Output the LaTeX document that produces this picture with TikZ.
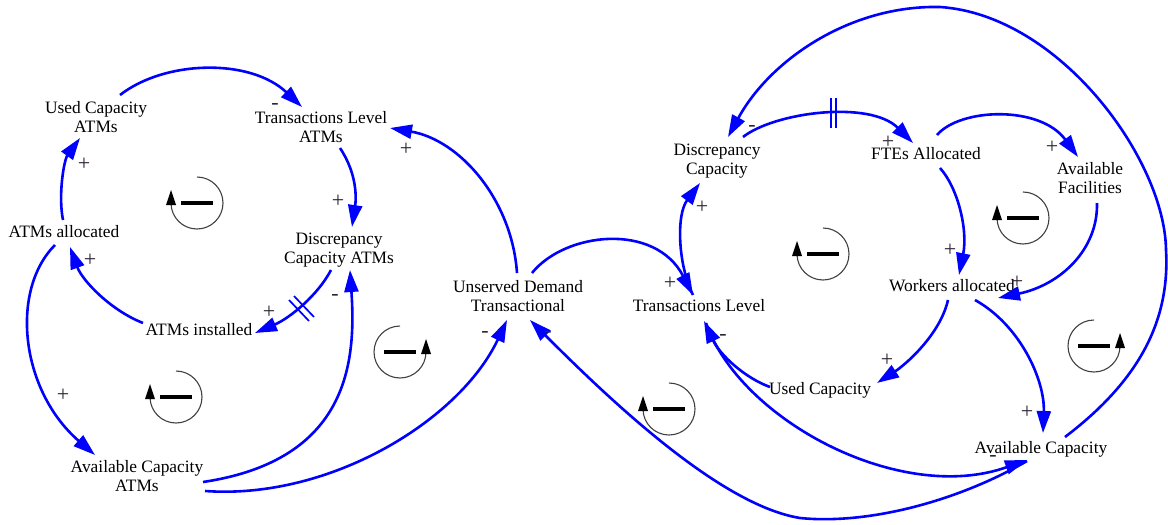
\documentclass[tikz,border=0pt]{standalone}
\usepackage{fontspec}
\setmainfont{Liberation Serif}
\usetikzlibrary{arrows.meta}
\definecolor{linkblue}{RGB}{0,0,255}
\definecolor{signink}{RGB}{45,35,50}
\begin{document}
\begin{tikzpicture}[x=1pt,y=-1pt,
  varnode/.style={align=center, inner sep=0pt, font=\fontsize{17.4}{19.5}\selectfont},
  link/.style={draw=linkblue, line width=2.6pt, -{Triangle[length=22pt,width=14pt]}},
  signnode/.style={inner sep=0pt, font=\fontsize{22}{22}\selectfont, text=signink},
  delaybar/.style={draw=linkblue, line width=1.7pt},
  loopcircle/.style={draw=black!75, line width=1.1pt},
  loopL/.pic={
    \begin{scope}[yscale=-1]
      \draw[loopcircle] (90:26) arc[start angle=90, end angle=-180, radius=26];
      \fill[black] (-31,-2) -- (-21,-2) -- (-26,13) -- cycle;
      \draw[black, line width=4pt] (-16,0) -- (16,0);
    \end{scope}
  },
  loopR/.pic={
    \begin{scope}[yscale=-1]
      \draw[loopcircle] (90:26) arc[start angle=90, end angle=360, radius=26];
      \fill[black] (21,-2) -- (31,-2) -- (26,13) -- cycle;
      \draw[black, line width=4pt] (-16,0) -- (16,0);
    \end{scope}
  }]
\useasboundingbox (0,0) rectangle (1168,525);

% variables
\node[varnode] (ucatm) at (96,117) {Used Capacity\\ATMs};
\node[varnode] (tlatm) at (321,127) {Transactions Level\\ATMs};
\node[varnode] (alloc) at (64,232) {ATMs allocated};
\node[varnode] (dcatm) at (339,250) {Discrepancy\\Capacity ATMs};
\node[varnode] (inst) at (199,330) {ATMs installed};
\node[varnode] (acatm) at (137,476) {Available Capacity\\ATMs};
\node[varnode] (ud) at (518,296) {Unserved Demand\\Transactional};
\node[varnode] (tl) at (699,306) {Transactions Level};
\node[varnode] (dc) at (717,161) {Discrepancy\\Capacity};
\node[varnode] (fte) at (926,154) {FTEs Allocated};
\node[varnode] (af) at (1090,178) {Available\\Facilities};
\node[varnode] (wa) at (952,286) {Workers allocated};
\node[varnode] (uc) at (820,390) {Used Capacity};
\node[varnode] (ac) at (1041,449) {Available Capacity};

% ATM sub-model links
\draw[link] ([shift={(24,-22)}]ucatm.center) .. controls (165,60) and (250,58) .. ([shift={(-19,-20)}]tlatm.center);
\draw[link] ([shift={(19,21)}]tlatm.center) .. controls (358,175) and (356,200) .. ([shift={(13,-23)}]dcatm.center);
\draw[link] ([shift={(-8,20)}]dcatm.center) .. controls (318,295) and (290,318) .. ([shift={(56,3)}]inst.center);
\draw[link] ([shift={(-56,-7)}]inst.center) .. controls (110,310) and (82,280) .. ([shift={(6,15)}]alloc.center);
\draw[link] ([shift={(-1,-12)}]alloc.center) .. controls (58,195) and (64,160) .. ([shift={(-16,21)}]ucatm.center);
\draw[link] ([shift={(-9,13)}]alloc.center) .. controls (10,290) and (20,390) .. ([shift={(-42,-21)}]acatm.center);
\draw[link] ([shift={(66,6)}]acatm.center) .. controls (350,460) and (356,360) .. ([shift={(11,20)}]dcatm.center);
\draw[link] ([shift={(68,15)}]acatm.center) .. controls (330,500) and (460,420) .. ([shift={(-11,24)}]ud.center);
\draw[link] ([shift={(-1,-23)}]ud.center) .. controls (512,200) and (460,140) .. ([shift={(69,1)}]tlatm.center);

% workforce sub-model links
\draw[link] ([shift={(14,-23)}]ud.center) .. controls (565,232) and (655,222) .. ([shift={(-6,-11)}]tl.center);
\draw[link] ([shift={(-6,-11)}]tl.center) .. controls (678,265) and (676,215) .. ([shift={(-17,22)}]dc.center);
\draw[link] ([shift={(26,-24)}]dc.center) .. controls (775,112) and (870,100) .. ([shift={(-13,-11)}]fte.center);
\draw[link] ([shift={(11,-19)}]fte.center) .. controls (960,108) and (1040,105) .. ([shift={(-12,-21)}]af.center);
\draw[link] ([shift={(14,14)}]fte.center) .. controls (958,188) and (968,230) .. ([shift={(7,-11)}]wa.center);
\draw[link] ([shift={(7,25)}]af.center) .. controls (1098,250) and (1060,285) .. ([shift={(46,12)}]wa.center);
\draw[link] ([shift={(-4,14)}]wa.center) .. controls (940,335) and (905,365) .. ([shift={(57,-7)}]uc.center);
\draw[link] ([shift={(23,14)}]wa.center) .. controls (1020,325) and (1045,380) .. ([shift={(2,-16)}]ac.center);
\draw[link] ([shift={(-50,-3)}]uc.center) .. controls (745,378) and (720,355) .. ([shift={(5,15)}]tl.center);
\draw[link] ([shift={(7,17)}]tl.center) .. controls (740,420) and (900,505) .. ([shift={(-14,11)}]ac.center);
\draw[link] ([shift={(-14,12)}]ac.center) .. controls (960,500) and (870,525) .. (800,518)
  .. controls (720,505) and (610,400) .. ([shift={(12,24)}]ud.center);
\draw[link] ([shift={(24,-12)}]ac.center) .. controls (1140,380) and (1170,320) .. (1166,250)
  .. controls (1165,160) and (1060,15) .. (940,7)
  .. controls (850,5) and (770,60) .. ([shift={(11,-24)}]dc.center);

% delay marks
\draw[delaybar] (831,98) -- (831,128) (836,98) -- (836,128);
\draw[delaybar] (289,300) -- (309,321) (294,296) -- (314,317);

% link polarities
\node[signnode] (s1) at (275,106) {-};
\node[signnode] (s2) at (338,201) {+};
\node[signnode] (s3) at (269,312) {+};
\node[signnode] (s4) at (90,260) {+};
\node[signnode] (s5) at (84,164) {+};
\node[signnode] (s6) at (63,395) {+};
\node[signnode] (s7) at (335,297) {-};
\node[signnode] (s8) at (485,334) {-};
\node[signnode] (s9) at (406,149) {+};
\node[signnode] (s10) at (670,283) {+};
\node[signnode] (s11) at (702,207) {+};
\node[signnode] (s12) at (888,142) {+};
\node[signnode] (s13) at (752,128) {-};
\node[signnode] (s14) at (1052,147) {+};
\node[signnode] (s15) at (950,250) {+};
\node[signnode] (s16) at (1017,282) {+};
\node[signnode] (s17) at (887,360) {+};
\node[signnode] (s18) at (723,337) {-};
\node[signnode] (s19) at (1027,412) {+};
\node[signnode] (s20) at (548,334) {-};
\node[signnode] (s21) at (993,458) {-};

% loop markers
\pic at (197,203) {loopL};
\pic at (400,352) {loopR};
\pic at (176,397) {loopL};
\pic at (823,254) {loopL};
\pic at (1023,218) {loopL};
\pic at (669,409) {loopL};
\pic at (1094,346) {loopR};
\end{tikzpicture}
\end{document}
